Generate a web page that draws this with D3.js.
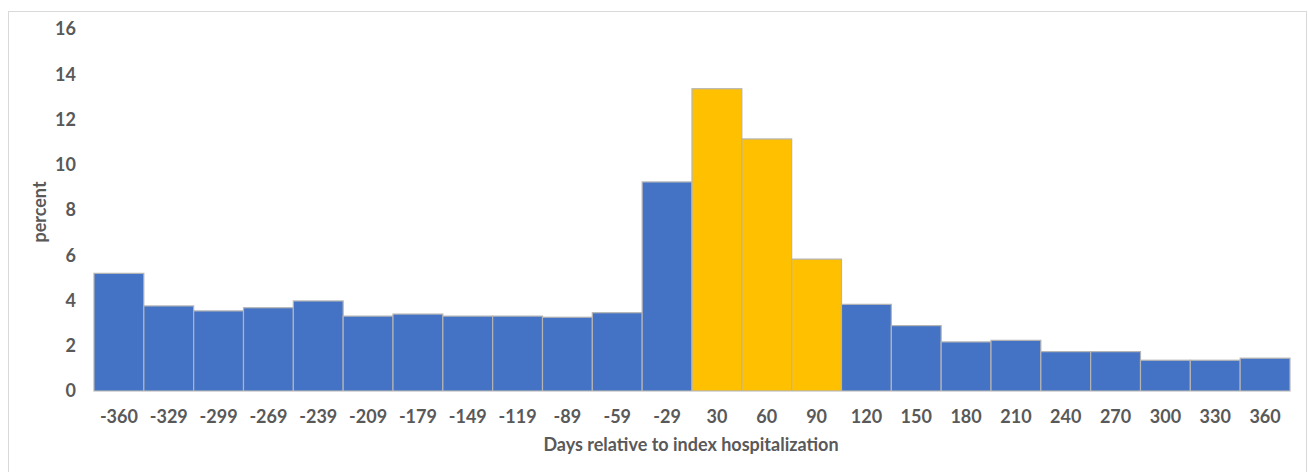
<!DOCTYPE html>
<html>
<head>
<meta charset="utf-8">
<script src="https://cdn.jsdelivr.net/npm/d3@7"></script>
<style>
  html, body { margin: 0; padding: 0; background: #fff; }
  svg { display: block; }
  text { font-family: Lato, "Open Sans", sans-serif; font-weight: bold; fill: #595959; }
</style>
</head>
<body>
<svg id="chart" width="1308" height="472"></svg>
<script>
// Days relative to the index hospitalization (bin labels)
const days = [-360, -329, -299, -269, -239, -209, -179, -149, -119, -89, -59, -29,
              30, 60, 90, 120, 150, 180, 210, 240, 270, 300, 330, 360];
// Percent of events in each bin
const percent = [5.2, 3.76, 3.54, 3.68, 3.98, 3.31, 3.4, 3.31, 3.31, 3.26, 3.46, 9.24,
                 13.36, 11.14, 5.83, 3.83, 2.89, 2.17, 2.24, 1.74, 1.74, 1.36, 1.36, 1.45];
// Bins in the first 90 days after hospitalization are highlighted
const highlighted = [30, 60, 90];
const yTicks = [0, 2, 4, 6, 8, 10, 12, 14, 16];

const svg = d3.select("#chart");

// outer frame
svg.append("rect")
  .attr("x", 8.5).attr("y", 11.5)
  .attr("width", 1298).attr("height", 470)
  .attr("fill", "#fff").attr("stroke", "#d9d9d9").attr("stroke-width", 1);

const x = d3.scaleBand().domain(days).range([94, 1290]).padding(0);
const y = d3.scaleLinear().domain([0, 16]).range([391, 29]);

// bars
svg.append("g").selectAll("rect")
  .data(days)
  .join("rect")
  .attr("x", d => x(d))
  .attr("y", (d, i) => y(percent[i]))
  .attr("width", x.bandwidth())
  .attr("height", (d, i) => y(0) - y(percent[i]))
  .attr("fill", d => highlighted.includes(d) ? "#ffc000" : "#4472c4")
  .attr("stroke", "#b4b4b4")
  .attr("stroke-width", 1.2);

// x axis line
svg.append("line")
  .attr("x1", 94).attr("x2", 1290)
  .attr("y1", y(0) + 0.5).attr("y2", y(0) + 0.5)
  .attr("stroke", "#d9d9d9").attr("stroke-width", 1);

const font = "Lato, 'Open Sans', sans-serif";

// x axis
const xAxis = svg.append("g")
  .attr("transform", `translate(0,${y(0)})`)
  .call(d3.axisBottom(x).tickSize(0).tickPadding(19));
xAxis.select(".domain").remove();
xAxis.selectAll("text").attr("font-size", 18).attr("fill", "#595959")
  .style("font-family", font).style("font-weight", "bold");

// y axis
const yAxis = svg.append("g")
  .attr("transform", "translate(76,0)")
  .call(d3.axisLeft(y).tickValues(yTicks).tickSize(0).tickPadding(0));
yAxis.select(".domain").remove();
yAxis.selectAll("text").attr("font-size", 18).attr("fill", "#595959")
  .style("font-family", font).style("font-weight", "bold");

// axis titles
svg.append("text")
  .attr("x", 691).attr("y", 451)
  .attr("text-anchor", "middle")
  .attr("font-size", 18)
  .text("Days relative to index hospitalization");

svg.append("text")
  .attr("transform", "translate(46,212) rotate(-90)")
  .attr("text-anchor", "middle")
  .attr("font-size", 18)
  .text("percent");
</script>
</body>
</html>
